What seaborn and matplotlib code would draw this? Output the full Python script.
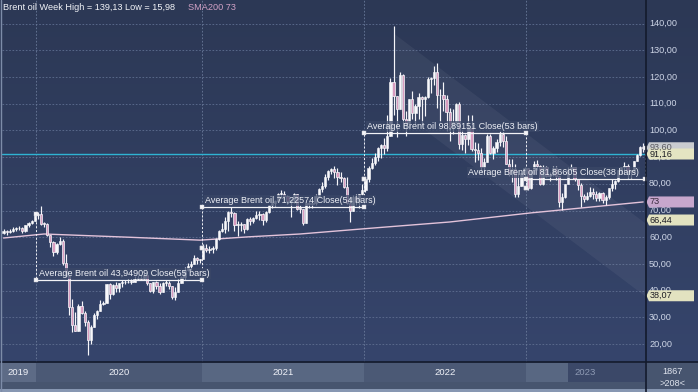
import numpy as np
import pandas as pd
import matplotlib
matplotlib.use("Agg")
import matplotlib.pyplot as plt
import seaborn as sns
from matplotlib.colors import LinearSegmentedColormap
from matplotlib.lines import Line2D
from matplotlib.patches import Polygon, Rectangle

# ---------------- data (weekly Brent oil) ----------------
close_2019 = [62.3, 61.9, 62.5, 63.2, 63.3, 63.4, 62.4, 64.4, 65.2, 66.1, 68.2]
high_2019 = [63.0, 62.8, 63.2, 63.8, 63.9, 64.2, 64.0, 64.7, 65.6, 66.5, 68.8]
low_2019 = [61.2, 60.9, 61.5, 61.9, 62.2, 62.6, 61.4, 61.8, 63.8, 65.0, 65.9]

close_2020 = [68.6, 65.0, 64.9, 60.7, 58.2, 54.5, 57.3, 58.5, 50.5, 45.3, 33.9, 27.0, 24.9, 34.1,
              31.5, 28.1, 21.4, 26.4, 31.0, 32.5, 35.1, 35.3, 42.3, 38.7, 42.2, 41.0, 42.8, 43.2,
              43.1, 43.3, 43.3, 44.4, 44.8, 44.4, 45.8, 42.7, 39.8, 43.2, 41.9, 39.3, 42.9, 42.9,
              41.8, 37.5, 39.5, 42.8, 45.0, 47.9, 49.3, 50.0, 52.3, 51.3, 51.8]
high_2020 = [69.5, 71.8, 65.7, 65.5, 60.9, 58.7, 57.8, 60.0, 59.5, 53.6, 45.9, 36.8, 31.8, 35.0,
             36.0, 32.3, 29.1, 27.1, 31.7, 32.8, 36.4, 36.2, 42.4, 42.8, 42.6, 43.2, 43.0, 43.8,
             44.0, 44.2, 44.2, 45.3, 45.9, 45.9, 46.5, 46.0, 43.0, 43.4, 43.6, 42.7, 43.2, 43.9,
             43.7, 41.9, 41.4, 44.4, 45.3, 48.7, 50.5, 51.0, 53.3, 52.5, 52.0]
low_2020 = [67.0, 64.7, 63.9, 60.4, 56.5, 53.1, 53.8, 56.9, 49.6, 45.0, 31.0, 24.5, 24.7, 26.7,
            31.3, 26.7, 15.98, 19.9, 26.2, 29.4, 33.3, 34.5, 37.9, 36.9, 38.3, 39.5, 39.5, 41.5,
            42.3, 42.7, 42.4, 43.2, 44.1, 44.0, 44.9, 42.0, 39.4, 39.2, 40.6, 38.9, 39.4, 41.6,
            40.7, 37.0, 36.6, 39.6, 42.9, 44.4, 47.5, 47.8, 49.9, 49.8, 50.2]

close_2021 = [56.0, 55.1, 55.4, 55.9, 59.3, 62.4, 62.9, 66.1, 69.4, 69.2, 64.5, 64.6, 64.9, 63.0,
              66.8, 66.1, 67.3, 68.3, 68.7, 66.4, 69.6, 71.9, 72.7, 73.5, 76.2, 76.2, 75.6, 73.6,
              74.1, 76.3, 70.7, 70.6, 65.2, 72.7, 72.6, 72.9, 75.3, 78.1, 79.3, 82.4, 84.9, 85.5,
              84.4, 82.7, 82.2, 78.9, 72.7, 69.9, 75.2, 73.5, 76.1, 77.8]
high_2021 = [57.4, 57.4, 56.7, 56.6, 59.8, 62.8, 65.5, 67.7, 70.0, 71.4, 69.6, 65.9, 65.8, 65.0,
             67.3, 67.4, 67.6, 69.8, 70.0, 69.1, 69.8, 72.2, 73.1, 74.0, 76.4, 77.8, 77.2, 75.8,
             74.2, 76.4, 75.4, 71.9, 70.5, 72.8, 73.7, 73.8, 76.0, 78.6, 80.8, 83.5, 85.1, 86.1,
             86.7, 85.9, 84.6, 82.7, 82.6, 75.0, 75.7, 76.1, 76.2, 79.8]
low_2021 = [51.7, 54.4, 54.2, 54.0, 55.3, 59.0, 61.8, 61.7, 62.5, 67.7, 62.3, 60.3, 62.3, 61.6,
            62.6, 64.5, 65.2, 66.8, 66.4, 64.6, 65.8, 69.0, 71.0, 71.7, 73.3, 74.5, 73.9, 72.6,
            67.4, 72.8, 70.1, 69.0, 64.6, 65.3, 71.1, 71.0, 72.0, 75.2, 76.8, 78.3, 81.6, 83.5,
            82.3, 79.7, 80.8, 78.3, 72.6, 65.7, 69.7, 72.1, 70.8, 75.7]

close_2022 = [81.8, 86.1, 87.9, 90.0, 93.3, 94.4, 93.5, 97.9, 118.1, 112.7, 107.9, 120.7, 104.4,
              102.8, 111.7, 106.7, 109.3, 112.4, 111.6, 112.6, 119.4, 119.7, 122.0, 113.1, 113.1,
              111.6, 107.0, 101.2, 103.2, 110.0, 94.9, 98.2, 96.7, 101.0, 93.0, 92.8, 91.4, 86.2,
              88.0, 97.9, 91.6, 93.5, 95.8, 98.6, 96.0, 87.6, 83.6, 85.6, 76.1, 79.0, 83.9, 85.9]
high_2022 = [82.7, 86.7, 89.5, 91.7, 93.7, 95.0, 97.0, 105.8, 119.8, 139.13, 113.0, 122.0, 121.0,
             107.2, 111.9, 114.8, 109.9, 114.0, 112.9, 112.7, 119.9, 120.0, 124.0, 125.2, 115.4,
             118.0, 113.4, 108.4, 108.0, 110.1, 110.6, 100.2, 98.7, 105.6, 105.8, 95.5, 95.4,
             93.4, 89.6, 98.8, 98.8, 94.3, 96.6, 99.6, 99.3, 98.0, 89.2, 89.4, 87.3, 83.6, 84.2, 86.2]
low_2022 = [76.8, 80.6, 85.7, 86.9, 88.7, 89.7, 91.1, 92.4, 98.4, 105.6, 97.4, 108.1, 100.8,
            98.0, 100.6, 104.4, 101.9, 104.2, 101.5, 105.5, 112.1, 113.9, 117.1, 108.3, 103.1,
            107.4, 99.8, 96.1, 98.8, 102.6, 93.2, 92.8, 91.6, 94.4, 92.4, 88.0, 89.0, 84.5,
            83.7, 88.4, 91.2, 89.4, 91.8, 94.0, 93.7, 87.4, 83.1, 80.6, 75.1, 75.1, 79.5, 81.3]

close_2023 = [78.6, 85.3, 87.6, 86.7, 79.9, 86.4, 83.0, 83.2, 85.8, 82.8, 73.0, 75.0, 79.8, 85.1,
              86.3, 81.7, 79.5, 75.3, 74.2, 75.6, 77.0, 76.1, 74.8, 76.6, 73.9, 74.9, 78.5, 79.9,
              81.1, 85.0, 86.2, 86.8, 84.8, 84.5, 88.6, 90.7, 93.9, 93.3]
high_2023 = [86.0, 85.3, 88.4, 89.1, 86.9, 86.9, 86.7, 84.4, 86.8, 86.8, 83.1, 76.7, 80.0, 86.4,
             87.5, 85.6, 80.6, 80.3, 76.2, 77.1, 78.7, 78.4, 77.4, 77.1, 76.8, 75.9, 78.6, 81.8,
             81.4, 85.1, 86.3, 88.1, 87.5, 85.1, 88.7, 91.2, 94.3, 95.1]
low_2023 = [77.8, 78.1, 83.7, 85.0, 79.6, 79.6, 82.5, 80.9, 82.8, 81.6, 71.4, 70.1, 74.6, 84.3,
            84.7, 80.9, 77.5, 71.3, 73.3, 73.9, 75.0, 74.3, 73.7, 73.4, 72.7, 71.9, 74.3, 77.2,
            78.2, 80.6, 83.6, 84.0, 82.3, 82.3, 84.0, 88.5, 90.3, 91.8]
first_open = 61.6

year_labels = ["2019", "2020", "2021", "2022", "2023"]
avg_values = [43.94909, 71.22574, 98.89151, 81.86605]
avg_bar_counts = [55, 54, 53, 38]

sma_bar = [0, 13, 40, 63, 78, 95, 117, 143, 169, 205]
sma_val = [59.7, 61.2, 60.0, 58.9, 60.1, 61.2, 63.3, 65.7, 69.1, 73.2]

ytick_vals = [20, 30, 40, 50, 60, 70, 80, 90, 100, 110, 120, 130, 140]
last_price = 91.16
chan_upper_end, chan_lower_end = 65.44, 38.07
chan_upper_start, chan_lower_start = 136.4, 109.0
title_text = "Brent oil Week High = 139,13 Low = 15,98"
sma_text = "SMA200 73"

# ---------------- build table ----------------
closes = close_2019 + close_2020 + close_2021 + close_2022 + close_2023
highs = high_2019 + high_2020 + high_2021 + high_2022 + high_2023
lows = low_2019 + low_2020 + low_2021 + low_2022 + low_2023
year_sizes = [len(close_2019), len(close_2020), len(close_2021), len(close_2022), len(close_2023)]
n = len(closes)
df = pd.DataFrame({"bar": np.arange(n), "close": closes,
                   "open": [first_open] + closes[:-1], "high": highs, "low": lows})
df["high"] = df[["high", "open", "close"]].max(axis=1)
df["low"] = df[["low", "open", "close"]].min(axis=1)

# ---------------- style ----------------
sns.set_theme(style="dark")
plt.rcParams["font.family"] = ["Liberation Sans", "DejaVu Sans"]

W, H = 698, 392
PXB = 3.12            # pixels per bar
YMIN, YMAX = 13.26, 148.84


def px_rect(x0, y0, x1, y1):
    return [x0 / W, 1 - y1 / H, (x1 - x0) / W, (y1 - y0) / H]


fig = plt.figure(figsize=(W / 100, H / 100), dpi=100)
fig.patch.set_facecolor("#47556f")

# gradient background of chart + right scale
bg = fig.add_axes(px_rect(0, 0, 698, 362))
bg.set_axis_off()
grad = np.linspace(0, 1, 256).reshape(-1, 1)
cmap = LinearSegmentedColormap.from_list("bg", ["#2c3855", "#36456c"])
bg.imshow(grad, aspect="auto", cmap=cmap, extent=[0, 1, 0, 1], origin="upper")
bg.set_xlim(0, 1); bg.set_ylim(0, 1)

ax = fig.add_axes(px_rect(2, 0, 646, 362))
ax.set_facecolor("none")
ax.set_xlim(-0.5, -0.5 + 644 / PXB)
ax.set_ylim(YMIN, YMAX)
ax.set_axis_off()

# grid
for p in ytick_vals:
    ax.axhline(p, color="#5f6f91", lw=0.6, ls=(0, (2, 2)), zorder=1)
edges = np.cumsum([0] + year_sizes) - 0.5
for e in edges[1:5]:
    ax.axvline(e, color="#6a7a9a", lw=0.6, ls=(0, (2, 2)), zorder=1)

# regression channel
ax.fill_between([125, edges[-1]], [chan_upper_start, chan_upper_end],
                [chan_lower_start, chan_lower_end], color="white", alpha=0.05, lw=0, zorder=1)

# SMA200
sns.lineplot(x=sma_bar, y=sma_val, ax=ax, color="#e3c3da", lw=1.0, zorder=2)

# current price line
ax.axhline(last_price, color="#2fb3d3", lw=1.0, zorder=3)

# candles
up = df["close"] >= df["open"]
ax.vlines(df["bar"], df["low"], df["high"], color="#f6f6fa", lw=0.85, zorder=4)
body_b = np.minimum(df["open"], df["close"])
body_h = np.maximum((df["close"] - df["open"]).abs(), 0.3)
ax.bar(df["bar"][up], body_h[up], bottom=body_b[up], width=0.72, color="#f8f8fb",
       edgecolor="#f8f8fb", lw=0.4, zorder=5)
ax.bar(df["bar"][~up], body_h[~up], bottom=body_b[~up], width=0.72, color="#d99cc0",
       edgecolor="#f8f8fb", lw=0.5, zorder=5)

# yearly averages
first_idx = [int(edges[k] + 0.5) for k in range(1, 5)]
mx, my = [], []
for k in range(4):
    x0, x1 = edges[k + 1], edges[k + 2]
    v = avg_values[k]
    c0 = closes[first_idx[k]]
    c1 = closes[first_idx[k + 1]] if k < 3 else closes[-1]
    ax.plot([x0, x1], [v, v], color="#f2f2f6", lw=0.9, zorder=6)
    ax.plot([x0, x0], [c0, v], color="#f2f2f6", lw=0.7, ls=(0, (2, 2)), zorder=6)
    ax.plot([x1, x1], [v, c1], color="#f2f2f6", lw=0.7, ls=(0, (2, 2)), zorder=6)
    mx += [x0, x0, x1, x1]; my += [c0, v, v, c1]
    label = f"Average Brent oil {v:.5f} Close({avg_bar_counts[k]} bars)".replace(".", ",")
    box = dict(boxstyle="square,pad=0.12", fc="#3a4767", ec="none", alpha=0.75)
    if k < 3:
        ax.annotate(label, (x0, v), xytext=(3, 2), textcoords="offset pixels", ha="left",
                    va="bottom", fontsize=6.5, color="#eef0f6", bbox=box, zorder=7)
    else:
        ax.annotate(label, (x1, v), xytext=(-6, 2), textcoords="offset pixels", ha="right",
                    va="bottom", fontsize=6.5, color="#eef0f6", bbox=box, zorder=7)
sns.scatterplot(x=mx, y=my, ax=ax, marker="s", s=8, color="#f4f4f8", edgecolor="#c8c8d0",
                linewidth=0.3, zorder=8)

# title
fig.text(3 / W, 1 - 7.5 / H, title_text, color="#f2f4f8", fontsize=6.6, va="center")
fig.text(188 / W, 1 - 7.5 / H, sma_text, color="#d2a2c6", fontsize=6.6, va="center")

# right price scale
axr = fig.add_axes(px_rect(646, 0, 698, 362))
axr.set_axis_off()
axr.set_xlim(0, 52)
axr.set_ylim(YMIN, YMAX)
for p in ytick_vals:
    axr.text(3, p, f"{p:.2f}".replace(".", ","), color="#cdd5e6", fontsize=6.6,
             va="center", ha="left")

box_h = 11 / 2.667


def price_box(p, text, fc, tc="#1c1c24"):
    pts = [(0.5, p), (3, p + box_h / 2), (48, p + box_h / 2), (48, p - box_h / 2), (3, p - box_h / 2)]
    axr.add_patch(Polygon(pts, closed=True, fc=fc, ec="none", zorder=5))
    axr.text(3.5, p, text, color=tc, fontsize=6.6, va="center", ha="left", zorder=6)


price_box(93.5, "93,60", "#c9ccd0", "#5a5a60")
price_box(last_price, "91,16", "#e4e4c2")
price_box(73.2, "73", "#c7a7cd", "#3a2a3e")
price_box(66.44, "66,44", "#e2e2c0")
price_box(chan_lower_end, "38,07", "#e2e2c0")

# bottom time axis
axb = fig.add_axes(px_rect(0, 362, 646, 392))
axb.set_axis_off()
axb.set_xlim(-0.5 - 2 / PXB, -0.5 + 644 / PXB)
axb.set_ylim(30, 0)
axb.add_patch(Rectangle((-5, 0), 300, 30, fc="#47556f", ec="none", zorder=0))
band_cols = ["#5d6b86", "#4b5975", "#586782", "#4b5975", "#586782"]
for k in range(5):
    x0, x1 = edges[k], edges[k + 1]
    if k == 0:
        x0 = -0.5 - 2 / PXB + 1 / PXB
    axb.add_patch(Rectangle((x0, 1), x1 - x0, 19, fc=band_cols[k], ec="none", zorder=1))
axb.add_patch(Rectangle((edges[4] + 13.5, 1), edges[5] - edges[4] - 13.5, 19, fc="#3b4868",
                        ec="none", zorder=2))
axb.add_patch(Rectangle((-5, 27), 300, 3, fc="#8797b2", ec="none", zorder=3))
for k in range(5):
    xc = (edges[k] + edges[k + 1]) / 2 if k else (edges[0] - 2 / PXB + edges[1]) / 2
    col = "#f0f2f8" if k < 4 else "#8e9ab4"
    axb.text(xc, 10.5, year_labels[k], color=col, fontsize=6.8, ha="center", va="center", zorder=4)

axc = fig.add_axes(px_rect(646, 362, 698, 392))
axc.set_axis_off()
axc.set_xlim(0, 52); axc.set_ylim(30, 0)
axc.add_patch(Rectangle((0, 0), 52, 30, fc="#47556f", ec="none"))
axc.add_patch(Rectangle((0, 27), 52, 3, fc="#8797b2", ec="none"))
axc.text(27, 9.5, "1867", color="#dfe4ee", fontsize=6.6, ha="center", va="center")
axc.text(27, 21, ">208<", color="#dfe4ee", fontsize=6.6, ha="center", va="center")

# separators
fig.add_artist(Line2D([646 / W, 646 / W], [0, 1], color="#131a2c", lw=1.2))
fig.add_artist(Line2D([0, 1], [1 - 362 / H, 1 - 362 / H], color="#131a2c", lw=1.2))
fig.add_artist(Line2D([0.7 / W, 0.7 / W], [0, 1], color="#7d8ca8", lw=1.0))

fig.savefig("out.png", dpi=100, facecolor=fig.get_facecolor())
